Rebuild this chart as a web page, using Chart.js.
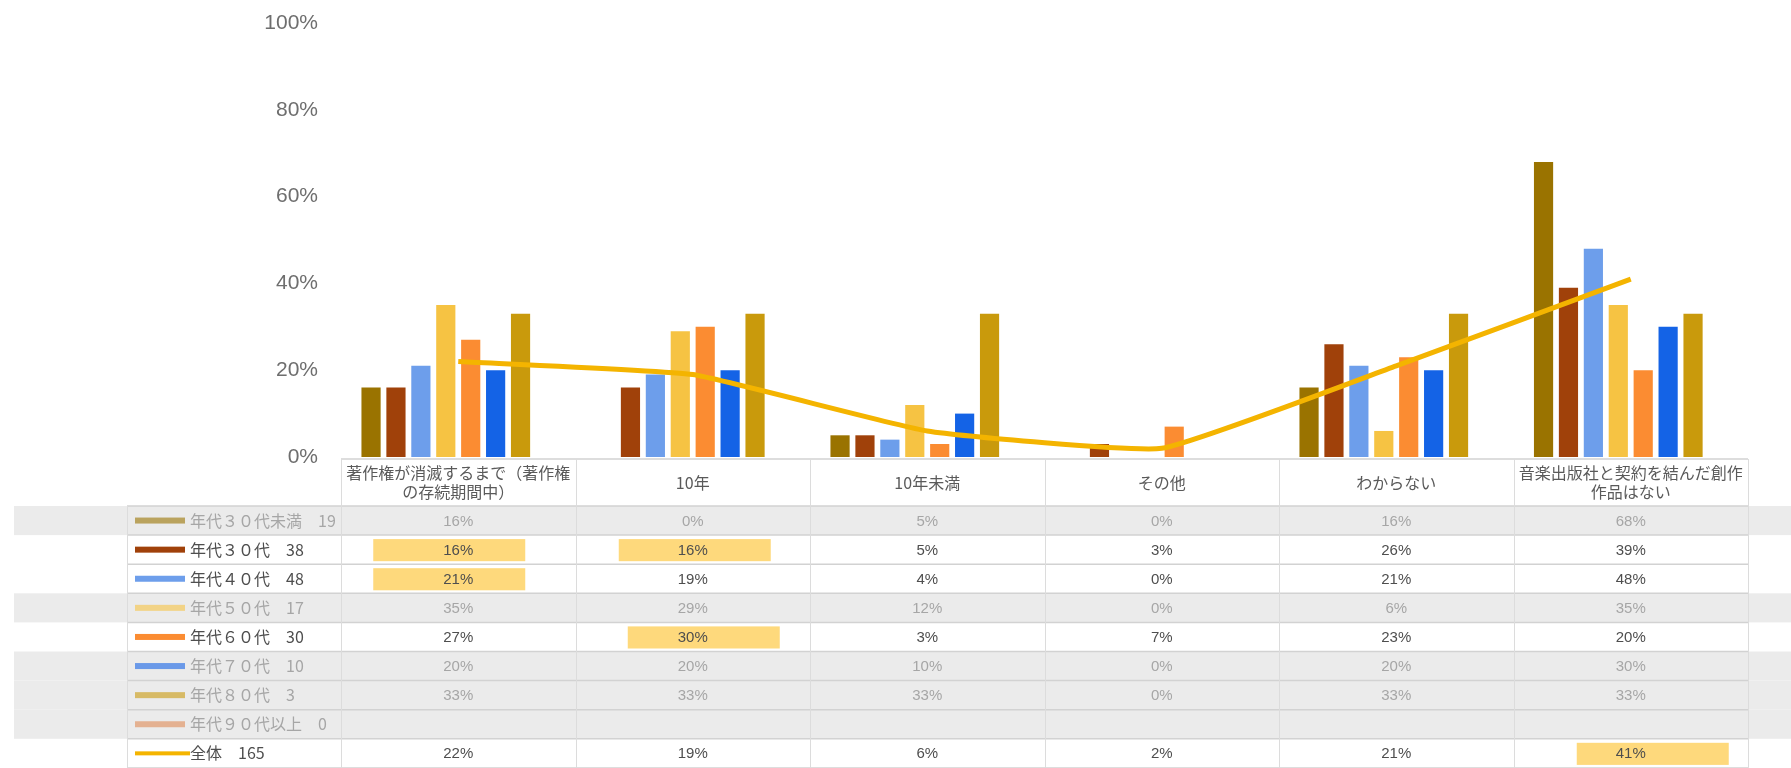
<!DOCTYPE html>
<html lang="ja">
<head>
<meta charset="utf-8">
<title>契約期間の意識 年代別</title>
<script src="https://cdn.jsdelivr.net/npm/chart.js@4.4.1/dist/chart.umd.min.js"></script>
<style>
  html, body { margin: 0; padding: 0; background: #fff; }
  #wrap { width: 1791px; height: 768px; }
</style>
</head>
<body>
<div id="wrap"><canvas id="chart" width="1791" height="768"></canvas></div>
<script>
// ── Data ──────────────────────────────────────────────────────
const categories = [
    ['著作権が消滅するまで（著作権', 'の存続期間中）'],
    '10年',
    '10年未満',
    'その他',
    'わからない',
    ['音楽出版社と契約を結んだ創作', '作品はない']
];

const seriesNames  = ['年代３０代未満', '年代３０代', '年代４０代', '年代５０代', '年代６０代', '年代７０代', '年代８０代', '年代９０代以上'];
const seriesCounts = [19, 38, 48, 17, 30, 10, 3, 0];

const under30 = [16, 0, 5, 0, 16, 68];
const age30   = [16, 16, 5, 3, 26, 39];
const age40   = [21, 19, 4, 0, 21, 48];
const age50   = [35, 29, 12, 0, 6, 35];
const age60   = [27, 30, 3, 7, 23, 20];
const age70   = [20, 20, 10, 0, 20, 30];
const age80   = [33, 33, 33, 0, 33, 33];
const age90   = [null, null, null, null, null, null];

const totalName  = '全体';
const totalCount = 165;
const totalAll   = [22, 19, 6, 2, 21, 41];

const yTicks = [0, 20, 40, 60, 80, 100];

// ── Styles ────────────────────────────────────────────────────
const seriesColors = ['#9a7300', '#a0410a', '#6d9eeb', '#f6c343', '#fb8c32', '#1463e6', '#c99a0c', '#e08a55'];
const totalColor   = '#f4b400';
const dimmedRows   = [0, 3, 5, 6, 7];              // rows shown on a grey band
// [row, column, horizontal nudge in px]
const highlightCells = [[1, 0, -9], [2, 0, -9], [1, 1, 2], [4, 1, 11], [8, 5, 22]];

const ageSeries = [under30, age30, age40, age50, age60, age70, age80, age90];

// ── Table under the plot ──────────────────────────────────────
const dataTable = {
    id: 'dataTable',
    afterDraw(chart) {
        const { ctx, chartArea, scales: { x } } = chart;
        const W        = chart.width;
        const colW     = chartArea.width / categories.length;
        const top      = chartArea.bottom + 2;
        const headH    = 47;
        const rowH     = 29.1;
        const labelL   = 127;
        const right    = chartArea.right;
        const rowCount = seriesNames.length + 1;
        const bodyTop  = top + headH;
        const bottom   = bodyTop + rowH * rowCount;

        ctx.save();

        // grey bands
        ctx.fillStyle = '#ebebeb';
        dimmedRows.forEach(r => ctx.fillRect(14, bodyTop + r * rowH, W - 14, rowH));

        // highlighted cells
        ctx.fillStyle = '#fed97c';
        highlightCells.forEach(([r, c, dx]) => {
            const cx = x.getPixelForValue(c) + dx;
            ctx.fillRect(cx - 76, bodyTop + r * rowH + 4, 152, rowH - 7);
        });

        // horizontal rules
        ctx.strokeStyle = '#d2d2d2';
        ctx.lineWidth = 1.5;
        ctx.beginPath();
        ctx.moveTo(chartArea.left, top);
        ctx.lineTo(right, top);
        for (let r = 0; r <= rowCount; r++) {
            const y = bodyTop + r * rowH;
            ctx.moveTo(labelL, y);
            ctx.lineTo(right, y);
        }
        ctx.stroke();

        // vertical rules
        ctx.strokeStyle = '#dcdcdc';
        ctx.lineWidth = 1;
        ctx.beginPath();
        ctx.moveTo(labelL + 0.5, bodyTop);
        ctx.lineTo(labelL + 0.5, bottom);
        for (let c = 0; c <= categories.length; c++) {
            const xx = Math.round(chartArea.left + c * colW) + 0.5;
            ctx.moveTo(xx, top);
            ctx.lineTo(xx, bottom);
        }
        ctx.stroke();

        // header labels
        ctx.textAlign = 'center';
        ctx.textBaseline = 'middle';
        ctx.font = '16px "Noto Sans CJK JP"';
        ctx.fillStyle = '#5a5a5a';
        categories.forEach((label, c) => {
            const lines = Array.isArray(label) ? label : [label];
            const cx = x.getPixelForValue(c);
            const mid = top + headH / 2;
            lines.forEach((line, i) => {
                ctx.fillText(line, cx, mid + (i - (lines.length - 1) / 2) * 19);
            });
        });

        // series rows
        const rows = ageSeries.map((data, i) => ({
            label: seriesNames[i] + '\u3000' + seriesCounts[i],
            color: seriesColors[i],
            data: data,
            dim: dimmedRows.includes(i),
            width: 6,
            len: 50
        }));
        rows.push({ label: totalName + '\u3000' + totalCount, color: totalColor, data: totalAll, dim: false, width: 4, len: 55 });

        rows.forEach((row, r) => {
            const cy = bodyTop + r * rowH + rowH / 2;

            // legend swatch
            ctx.globalAlpha = row.dim ? 0.6 : 1;
            ctx.fillStyle = row.color;
            ctx.fillRect(135, cy - row.width / 2, row.len, row.width);
            ctx.globalAlpha = 1;

            ctx.textAlign = 'left';
            ctx.font = '16px "Noto Sans CJK JP"';
            ctx.fillStyle = row.dim ? '#a6a6a6' : '#4e4e4e';
            ctx.fillText(row.label, 190, cy);

            ctx.textAlign = 'center';
            ctx.font = '15px "Liberation Sans", Arial, sans-serif';
            row.data.forEach((v, c) => {
                if (v === null) return;
                ctx.fillText(v + '%', x.getPixelForValue(c), cy + 1);
            });
        });

        ctx.restore();
    }
};

// ── Chart ─────────────────────────────────────────────────────
const barSets = ageSeries.map((data, i) => ({
    type: 'bar',
    label: seriesNames[i],
    data: data,
    backgroundColor: seriesColors[i],
    categoryPercentage: 0.85,
    barPercentage: 0.77,
    order: 1
}));

const lineSet = {
    type: 'line',
    label: totalName,
    data: totalAll,
    borderColor: totalColor,
    borderWidth: 5,
    pointRadius: 0,
    tension: 0.12,
    order: 0
};

new Chart(document.getElementById('chart'), {
    data: {
        labels: categories,
        datasets: [...barSets, lineSet]
    },
    options: {
        responsive: false,
        animation: false,
        devicePixelRatio: 1,
        layout: { padding: { left: 0, right: 43, top: 23, bottom: 311 } },
        plugins: {
            legend:  { display: false },
            tooltip: { enabled: false }
        },
        scales: {
            x: { display: false },
            y: {
                min: 0,
                max: 100,
                // fixed axis gutter; the tick padding must not push the plot down
                afterFit(scale) {
                    scale.width = 341;
                    scale.paddingTop = 0;
                    scale.paddingBottom = 0;
                },
                afterBuildTicks(scale) { scale.ticks = yTicks.map(v => ({ value: v })); },
                grid:   { display: false, drawTicks: false },
                border: { display: false },
                ticks: {
                    padding: 23,
                    color: '#6e6e6e',
                    font: { family: '"Liberation Sans", Arial, sans-serif', size: 21 },
                    callback: v => v + '%'
                }
            }
        }
    },
    plugins: [dataTable]
});
</script>
</body>
</html>
